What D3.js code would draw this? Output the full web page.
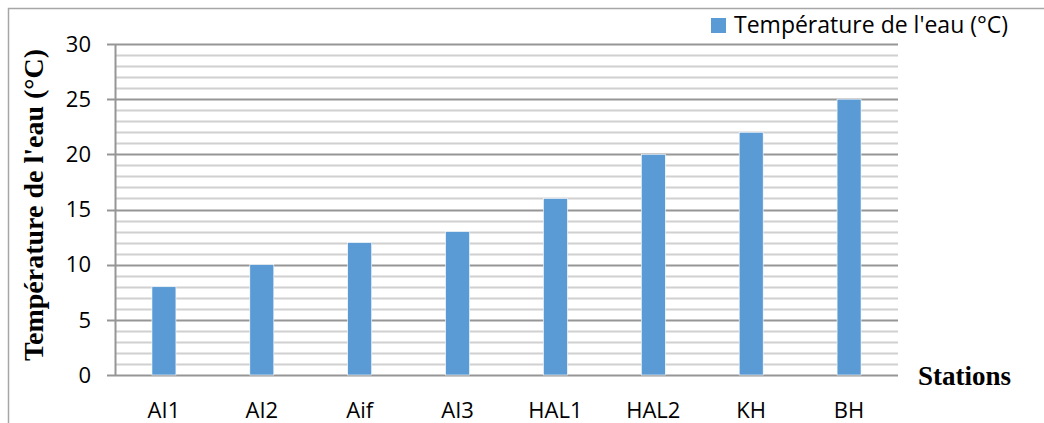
<!DOCTYPE html>
<html>
<head>
<meta charset="utf-8">
<script src="https://cdn.jsdelivr.net/npm/d3@7"></script>
<style>
  body { margin: 0; background: #fff; }
  svg { display: block; }
</style>
</head>
<body>
<div id="chart"></div>
<script>
// data
var stations = ["AI1", "AI2", "Aif", "AI3", "HAL1", "HAL2", "KH", "BH"];
var temperatures = [8, 10, 12, 13, 16, 20, 22, 25];
var yTicks = [0, 5, 10, 15, 20, 25, 30];
var seriesName = "Température de l'eau (°C)";

var svgWidth = 1044;
var svgHeight = 423;

var margin = { top: 44, right: 146, bottom: 48, left: 115 };
var width = svgWidth - margin.left - margin.right;
var height = svgHeight - margin.top - margin.bottom;

var svg = d3.select("#chart")
    .append("svg")
    .attr("width", svgWidth)
    .attr("height", svgHeight);

// outer chart frame
svg.append("rect")
    .attr("x", 8.5).attr("y", 8.5)
    .attr("width", svgWidth + 10).attr("height", svgHeight + 10)
    .attr("fill", "none")
    .attr("stroke", "#a6a6a6")
    .attr("stroke-width", 1.5);

var g = svg.append("g")
    .attr("transform", `translate(${margin.left}, ${margin.top})`);

var x = d3.scaleBand().domain(stations).range([0, width]).paddingInner(0.755).paddingOuter(0.3775);
var y = d3.scaleLinear().domain([0, 30]).range([height, 0]);

// minor gridlines (every 1)
g.selectAll(".minor")
    .data(d3.range(1, 30).filter(d => d % 5 !== 0))
    .enter().append("line")
    .attr("x1", 0).attr("x2", width)
    .attr("y1", d => Math.round(y(d)) + 0.5).attr("y2", d => Math.round(y(d)) + 0.5)
    .attr("stroke", "#d0d0d0").attr("stroke-width", 2);

// major gridlines (every 5) with outward tick
g.selectAll(".major")
    .data(yTicks)
    .enter().append("line")
    .attr("x1", -8).attr("x2", width)
    .attr("y1", d => Math.round(y(d)) + 0.5).attr("y2", d => Math.round(y(d)) + 0.5)
    .attr("stroke", "#969696").attr("stroke-width", 2);

// bars
g.selectAll(".bar")
    .data(temperatures)
    .enter().append("rect")
    .attr("x", (d, i) => x(stations[i]))
    .attr("y", d => y(d))
    .attr("width", x.bandwidth())
    .attr("height", d => height - y(d))
    .attr("fill", "#5b9bd5")
    .attr("stroke", "#ffffff")
    .attr("stroke-width", 0.6);

// y axis line
g.append("line")
    .attr("x1", 0.5).attr("x2", 0.5)
    .attr("y1", 0).attr("y2", height)
    .attr("stroke", "#969696").attr("stroke-width", 2);

// y tick labels
g.selectAll(".ylab")
    .data(yTicks)
    .enter().append("text")
    .attr("x", -24)
    .attr("y", d => y(d))
    .attr("dy", "0.35em")
    .attr("text-anchor", "end")
    .attr("font-family", "'Open Sans', sans-serif")
    .attr("font-size", 22)
    .attr("fill", "#000")
    .text(d => d);

// x tick labels
g.selectAll(".xlab")
    .data(stations)
    .enter().append("text")
    .attr("x", d => x(d) + x.bandwidth() / 2)
    .attr("y", height + 43)
    .attr("text-anchor", "middle")
    .attr("font-family", "'Open Sans', sans-serif")
    .attr("font-size", 22)
    .attr("fill", "#000")
    .text(d => d);

// axis titles
svg.append("text")
    .attr("transform", "translate(43, 205) rotate(-90)")
    .attr("text-anchor", "middle")
    .attr("font-family", "'Liberation Serif', 'Times New Roman', serif")
    .attr("font-weight", "bold")
    .attr("font-size", 28)
    .text("Température de l'eau (°C)");

svg.append("text")
    .attr("x", 918).attr("y", 385)
    .attr("font-family", "'Liberation Serif', 'Times New Roman', serif")
    .attr("font-weight", "bold")
    .attr("font-size", 27)
    .text("Stations");

// legend
svg.append("rect")
    .attr("x", 711).attr("y", 18)
    .attr("width", 15).attr("height", 15)
    .attr("fill", "#5b9bd5");
svg.append("text")
    .attr("x", 734).attr("y", 33)
    .attr("font-family", "'Open Sans', sans-serif")
    .attr("font-size", 23)
    .attr("fill", "#000")
    .text(seriesName);
</script>
</body>
</html>
